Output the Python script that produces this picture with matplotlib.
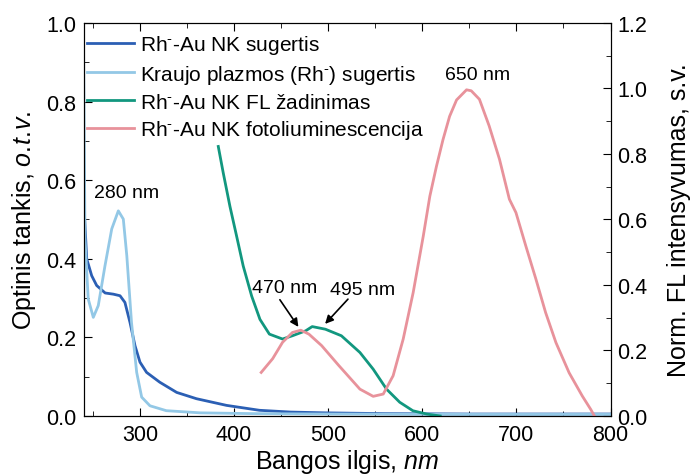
import matplotlib
matplotlib.use("Agg")
import matplotlib.pyplot as plt
from matplotlib.ticker import MultipleLocator

plt.rcParams['font.family'] = ['Liberation Sans', 'DejaVu Sans']
plt.rcParams['mathtext.fontset'] = 'custom'
plt.rcParams['mathtext.rm'] = 'Liberation Sans'
plt.rcParams['mathtext.it'] = 'Liberation Sans:italic'

# Rh- - Au NK absorption (left axis)
wl_abs = [240, 243.4, 248.7, 254, 263, 271.7, 278.8, 284, 289.4, 294.7, 300, 307, 321, 339, 360, 392, 427, 460, 497, 560, 650, 800]
abs_nk = [0.56, 0.40, 0.357, 0.332, 0.313, 0.31, 0.306, 0.289, 0.238, 0.179, 0.137, 0.111, 0.086, 0.06, 0.044, 0.027, 0.0145, 0.01, 0.008, 0.006, 0.005, 0.005]

# Blood plasma (Rh-) absorption (left axis)
wl_plasma = [240, 240.8, 241.6, 245, 250.4, 255.7, 262.8, 270, 277, 282.3, 286, 291, 296.5, 301.8, 310.6, 328, 364, 420, 500, 650, 800]
abs_plasma = [0.95, 0.70, 0.45, 0.298, 0.251, 0.281, 0.382, 0.476, 0.522, 0.501, 0.408, 0.238, 0.111, 0.048, 0.026, 0.0135, 0.008, 0.006, 0.005, 0.004, 0.004]

# FL excitation (right axis)
wl_exc = [383.2, 388.5, 395.6, 402.7, 409.7, 418.7, 427.5, 437.5, 451.5, 462, 476, 483, 497, 514, 533.7, 547.8, 562, 576, 590, 604.6, 619]
fl_exc = [0.823, 0.742, 0.64, 0.549, 0.458, 0.366, 0.295, 0.25, 0.235, 0.245, 0.26, 0.273, 0.265, 0.245, 0.194, 0.143, 0.082, 0.042, 0.016, 0.006, 0.0]

# Photoluminescence (right axis)
wl_pl = [428.8, 441, 451.5, 462, 470.8, 479.5, 493, 511, 533.7, 547.8, 558.5, 569, 579.7, 590.3, 601, 608, 615, 622, 629, 636.4, 647, 652,
         660.7, 671, 682, 692.5, 699.5, 710, 720.7, 731, 742, 756, 770, 779, 782.5]
fl_pl = [0.133, 0.175, 0.225, 0.255, 0.262, 0.25, 0.215, 0.155, 0.082, 0.06, 0.067, 0.123, 0.235, 0.377, 0.549, 0.671, 0.762, 0.844, 0.915, 0.965, 0.996, 0.993,
         0.967, 0.886, 0.784, 0.662, 0.621, 0.519, 0.418, 0.316, 0.224, 0.132, 0.061, 0.02, 0.002]

SUP = r'$^{\mathregular{‐}}$'
labels = ['Rh' + SUP + '-Au NK sugertis',
          'Kraujo plazmos (Rh' + SUP + ') sugertis',
          'Rh' + SUP + '-Au NK FL žadinimas',
          'Rh' + SUP + '-Au NK fotoliuminescencija']
colors = ['#2b5fb4', '#93c8e6', '#12977f', '#e8929b']

fig = plt.figure(figsize=(6.93, 4.77), dpi=100)
ax = fig.add_axes([0.1205, 0.1258, 0.7605, 0.8239])
ax2 = ax.twinx()

l1, = ax.plot(wl_abs, abs_nk, color=colors[0], lw=2)
l2, = ax.plot(wl_plasma, abs_plasma, color=colors[1], lw=2)
l3, = ax2.plot(wl_exc, fl_exc, color=colors[2], lw=2)
l4, = ax2.plot(wl_pl, fl_pl, color=colors[3], lw=2)

ax.set_xlim(240, 800)
ax.set_ylim(0, 1.0)
ax2.set_ylim(0, 1.2)

ax.xaxis.set_major_locator(MultipleLocator(100))
ax.xaxis.set_minor_locator(MultipleLocator(50))
ax.yaxis.set_major_locator(MultipleLocator(0.2))
ax.yaxis.set_minor_locator(MultipleLocator(0.1))
ax2.yaxis.set_major_locator(MultipleLocator(0.2))
ax2.yaxis.set_minor_locator(MultipleLocator(0.1))
ax.set_xticks([300, 400, 500, 600, 700, 800])
ax.set_xticklabels(['300', '400', '500', '600', '700', '800'])
ax.set_yticklabels([f'{v:.1f}' for v in ax.get_yticks()])
ax2.set_yticklabels([f'{v:.1f}' for v in ax2.get_yticks()])

ax.tick_params(axis='both', which='both', direction='in', top=True, labelsize=15.5)
ax.tick_params(which='major', length=6)
ax.tick_params(which='minor', length=3.5)
ax.tick_params(axis='x', which='both', pad=6)
ax.tick_params(axis='y', which='both', pad=5)
ax2.tick_params(axis='y', which='both', direction='in', labelsize=15.5, pad=5)
ax2.tick_params(which='major', length=6)
ax2.tick_params(which='minor', length=3.5)

ax.set_xlabel(r'Bangos ilgis, $\mathit{nm}$', fontsize=18, labelpad=1)
ax.set_ylabel(r'Optinis tankis, $\mathit{o.\!t.\!v.}$', fontsize=18, labelpad=6)
ax2.set_ylabel('Norm. FL intensyvumas, s.v.', fontsize=18, labelpad=14)

ax.text(285.9, 0.568, '280 nm', ha='center', va='center', fontsize=14)
ax2.text(454, 0.392, '470 nm', ha='center', va='center', fontsize=14)
ax2.text(537, 0.387, '495 nm', ha='center', va='center', fontsize=14)
ax2.text(659, 1.042, '650 nm', ha='center', va='center', fontsize=14)
ax2.annotate('', xy=(470, 0.265), xytext=(447, 0.362),
             arrowprops=dict(arrowstyle='-|>', color='black', lw=1.2, mutation_scale=12))
ax2.annotate('', xy=(494.7, 0.275), xytext=(523, 0.363),
             arrowprops=dict(arrowstyle='-|>', color='black', lw=1.2, mutation_scale=12))

leg = ax.legend([l1, l2, l3, l4], labels, loc='upper left', bbox_to_anchor=(0.006, 0.975),
                frameon=False, fontsize=15,
                handlelength=2.25, handletextpad=0.32, labelspacing=0.33,
                borderaxespad=0.0, borderpad=0.0)

fig.savefig('out.png', dpi=100)
